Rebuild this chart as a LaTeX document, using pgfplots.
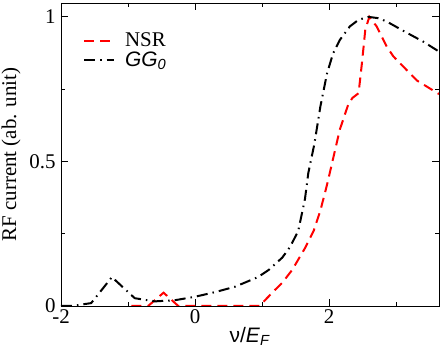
\documentclass[border=0pt]{standalone}
\usepackage{fontspec}
\setmainfont{Liberation Serif}
\newfontfamily\sans{Liberation Sans}
\usepackage{pgfplots}
\pgfplotsset{compat=1.18}

\begin{document}
\begin{tikzpicture}[font=\fontsize{21}{24}\selectfont]
\begin{axis}[
    name=main,
    scale only axis,
    width=378bp, height=303bp,
    xmin=-2, xmax=3.64,
    ymin=0, ymax=1.048,
    xtick={-2,0,2}, minor xtick={-1,1,3},
    ytick={0,0.5,1}, minor ytick={0.25,0.75},
    yticklabels={0,0.5,1},
    tick align=inside,
    major tick length=7bp, minor tick length=4bp,
    every tick/.style={black, line width=0.8pt},
    axis line style={line width=0.9pt},
    /pgf/number format/assume math mode=true,
    yticklabel style={xshift=-2bp},
    xlabel={\sans ν/\textit{E}\textsubscript{\textit{F}}},
    ylabel={RF current (ab. unit)},
    xlabel style={yshift=3bp},
    ylabel style={yshift=2bp},
    legend style={draw=none, fill=none, at={(rel axis cs:0.05,0.915)}, anchor=north west,
        row sep=0bp, /tikz/every odd column/.append style={column sep=8bp}},
    legend cell align=left,
    legend image code/.code={\draw[mark repeat=2,mark phase=2,#1] plot coordinates {(0bp,0bp) (15bp,0bp) (30bp,0bp)};},
]
\addplot[red, line width=2bp, dash pattern=on 10bp off 6bp] coordinates {
(-0.95,0) (-0.7,0) (-0.47,0.046) (-0.25,0) (0.96,0) (1.19,0.055) (1.3,0.08)
(1.45,0.125) (1.64,0.2) (1.77,0.26) (1.87,0.33) (1.97,0.42) (2.06,0.51)
(2.16,0.61) (2.29,0.70) (2.35,0.72) (2.44,0.736) (2.49,0.84) (2.54,0.955)
(2.6,1.0) (2.71,0.967) (2.86,0.897) (2.96,0.863) (3.31,0.78) (3.64,0.733)
};
\addlegendentry{NSR}
\addplot[black, line width=2bp, dash pattern=on 11bp off 5bp on 1.5bp off 5bp] coordinates {
(-2,0) (-1.84,0) (-1.55,0.01) (-1.24,0.10) (-0.9,0.027) (-0.6,0.016)
(-0.3,0.02) (0,0.032) (0.3,0.048) (0.6,0.067) (0.94,0.10) (1.1,0.125)
(1.3,0.167) (1.42,0.205) (1.54,0.26) (1.64,0.37) (1.69,0.46) (1.78,0.56)
(1.87,0.69) (1.97,0.805) (2.06,0.874) (2.16,0.92) (2.31,0.967) (2.44,0.99)
(2.59,1.0) (2.75,0.995) (2.89,0.98) (3.16,0.945) (3.4,0.915) (3.64,0.88)
};
\addlegendentry{\sans\itshape GG\textsubscript{0}}
\end{axis}
\pgfresetboundingbox
\path ([shift={(-61bp,-56bp)}]main.south west) rectangle ([shift={(4bp,3bp)}]main.north east);
\end{tikzpicture}
\end{document}
